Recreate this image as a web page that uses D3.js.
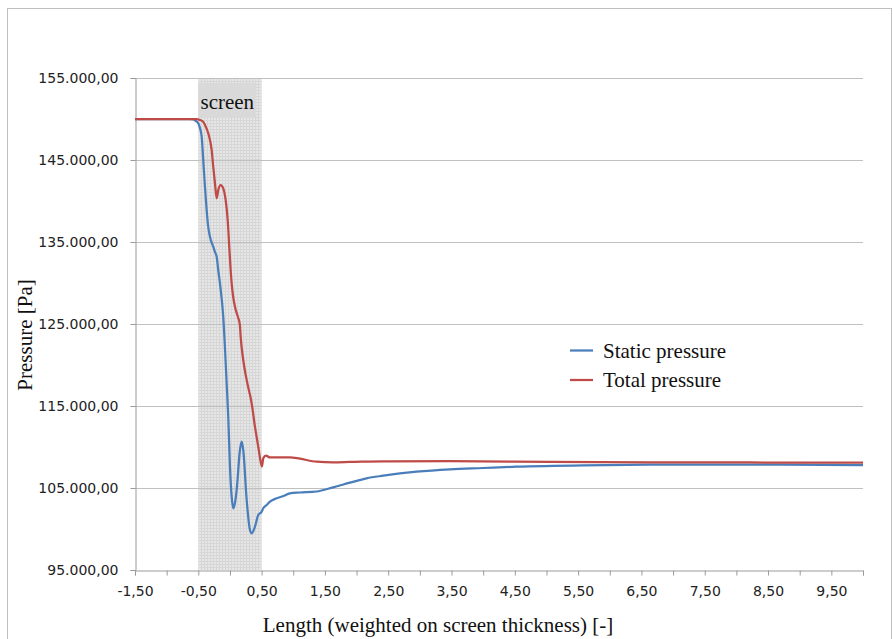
<!DOCTYPE html>
<html>
<head>
<meta charset="utf-8">
<script src="https://cdn.jsdelivr.net/npm/d3@7"></script>
<style>
  html, body { margin: 0; padding: 0; background: #fff; }
  svg { display: block; }
</style>
</head>
<body>
<svg id="chart" width="894" height="639"></svg>
<script>
// ---- Data ----
const totalX = [-1.5, -0.632, -0.521, -0.474, -0.426, -0.395, -0.343, -0.289, -0.264, -0.237, -0.210, -0.185, -0.147, -0.106, -0.068, -0.036, -0.011, 0.011, 0.027, 0.047, 0.079, 0.126, 0.157, 0.169, 0.210, 0.264, 0.343, 0.395, 0.447, 0.490, 0.505, 0.526, 0.568, 0.632, 0.947, 1.105, 1.369, 1.631, 1.895, 2.416, 3.474, 5.053, 6.632, 8.21, 10.0];
const totalP = [150000, 150000, 150000, 149878, 149695, 149268, 148256, 146220, 144183, 142158, 140329, 141341, 141951, 141548, 140122, 137683, 134427, 131585, 129963, 128537, 127110, 125854, 124878, 123451, 120610, 118171, 115329, 112476, 110037, 108012, 107622, 108622, 108963, 108720, 108744, 108573, 108207, 108134, 108171, 108256, 108268, 108195, 108134, 108110, 108085];

const staticX = [-1.5, -0.632, -0.579, -0.537, -0.501, -0.474, -0.447, -0.422, -0.395, -0.368, -0.347, -0.316, -0.264, -0.237, -0.210, -0.185, -0.158, -0.106, -0.052, -0.027, 0.0, 0.027, 0.052, 0.079, 0.106, 0.158, 0.185, 0.210, 0.264, 0.316, 0.343, 0.395, 0.447, 0.501, 0.526, 0.580, 0.632, 0.738, 0.842, 0.947, 1.105, 1.369, 1.631, 1.895, 2.158, 2.421, 2.948, 3.474, 3.995, 4.527, 5.579, 6.632, 8.21, 10.0];
const staticP = [150000, 150000, 149939, 149756, 149476, 148902, 147841, 145000, 141744, 138902, 137073, 135646, 134427, 133781, 133207, 131585, 129963, 125890, 117768, 113695, 107598, 103939, 102524, 103171, 104756, 109634, 110646, 109634, 103537, 99878, 99476, 100280, 101707, 102110, 102524, 102927, 103329, 103744, 104024, 104354, 104451, 104573, 105085, 105646, 106183, 106500, 106988, 107280, 107439, 107598, 107768, 107841, 107853, 107800];

const xTicks = [-1.5, -1, -0.5, 0, 0.5, 1, 1.5, 2, 2.5, 3, 3.5, 4, 4.5, 5, 5.5, 6, 6.5, 7, 7.5, 8, 8.5, 9, 9.5, 10];
const xLabelled = [-1.5, -0.5, 0.5, 1.5, 2.5, 3.5, 4.5, 5.5, 6.5, 7.5, 8.5, 9.5];
const yTicks = [95000, 105000, 115000, 125000, 135000, 145000, 155000];
const screenRange = [-0.5, 0.5];
const seriesNames = ["Static pressure", "Total pressure"];
const seriesColors = ["#4A7EBB", "#BE4B48"];
const xTitle = "Length (weighted on screen thickness) [-]";
const yTitle = "Pressure [Pa]";
const screenLabel = "screen";

// ---- Layout ----
const svg = d3.select("#chart");
const pLeft = 135, pRight = 863, pTop = 78, pBottom = 570;

const x = d3.scaleLinear().domain([-1.5, 10]).range([pLeft, pRight]);
const y = d3.scaleLinear().domain([95000, 155000]).range([pBottom, pTop]);

const loc = d3.formatLocale({decimal: ",", thousands: ".", grouping: [3], currency: ["", ""], minus: "-"});
const yFmt = loc.format(",.2f");
const xFmt = loc.format(".2f");

// outer border
svg.append("rect").attr("x", 7.5).attr("y", 8.5).attr("width", 884).attr("height", 700)
  .attr("fill", "none").attr("stroke", "#bfbfbf").attr("stroke-width", 1);

// pattern for screen band
const defs = svg.append("defs");
const pat = defs.append("pattern").attr("id", "screenPat").attr("patternUnits", "userSpaceOnUse")
  .attr("width", 3).attr("height", 3);
pat.append("rect").attr("width", 3).attr("height", 3).attr("fill", "#e6e6e6");
pat.append("path").attr("d", "M0,0.5H3M0.5,0V3").attr("stroke", "#d6d6d6").attr("stroke-width", 1);

svg.append("rect")
  .attr("x", x(screenRange[0])).attr("y", pTop)
  .attr("width", x(screenRange[1]) - x(screenRange[0])).attr("height", pBottom - pTop)
  .attr("fill", "url(#screenPat)");

// gridlines
svg.append("g").selectAll("line").data(yTicks.filter(d => d !== 95000)).join("line")
  .attr("x1", pLeft).attr("x2", pRight)
  .attr("y1", d => Math.round(y(d)) + 0.5).attr("y2", d => Math.round(y(d)) + 0.5)
  .attr("stroke", "#c0c0c0").attr("stroke-width", 1);

// y axis
const yAxis = svg.append("g").attr("transform", `translate(${pLeft + 0.5},0)`)
  .call(d3.axisLeft(y).tickValues(yTicks).tickSize(5).tickPadding(12).tickFormat(yFmt));
yAxis.select(".domain").attr("stroke", "#9a9a9a");
yAxis.selectAll(".tick line").attr("stroke", "#9a9a9a");
yAxis.selectAll(".tick text").attr("font-family", "DejaVu Sans").attr("font-size", 14).attr("fill", "#222");

// x axis
const xAxis = svg.append("g").attr("transform", `translate(0,${pBottom + 0.5})`)
  .call(d3.axisBottom(x).tickValues(xTicks).tickSize(5).tickPadding(11)
    .tickFormat(d => xLabelled.some(v => Math.abs(v - d) < 1e-9) ? xFmt(d) : ""));
xAxis.select(".domain").attr("stroke", "#9a9a9a");
xAxis.selectAll(".tick line").attr("stroke", "#9a9a9a");
xAxis.selectAll(".tick text").attr("font-family", "DejaVu Sans").attr("font-size", 14).attr("fill", "#222");

// screen label
const bx0 = x(screenRange[0]);
svg.append("rect").attr("x", bx0).attr("y", 83).attr("width", 58).attr("height", 35).attr("fill", "#d9d9d9");
svg.append("text").attr("x", bx0 + 29).attr("y", 109).attr("text-anchor", "middle")
  .attr("font-family", "Liberation Serif").attr("font-size", 21).attr("fill", "#111").text(screenLabel);

// lines
const line = d3.line().x(d => x(d[0])).y(d => y(d[1])).curve(d3.curveMonotoneX);
const series = [d3.zip(staticX, staticP), d3.zip(totalX, totalP)];
svg.append("g").selectAll("path").data(series).join("path")
  .attr("d", line).attr("fill", "none")
  .attr("stroke", (d, i) => seriesColors[i]).attr("stroke-width", 2.25)
  .attr("stroke-linejoin", "round");

// legend
const lg = svg.append("g");
seriesNames.forEach((name, i) => {
  const ly = 350.5 + i * 29.5;
  lg.append("line").attr("x1", 570).attr("x2", 593).attr("y1", ly).attr("y2", ly)
    .attr("stroke", seriesColors[i]).attr("stroke-width", 2.25);
  lg.append("text").attr("x", 603).attr("y", ly + 7).attr("font-family", "Liberation Serif")
    .attr("font-size", 21).attr("fill", "#111").text(name);
});

// axis titles
svg.append("text").attr("x", (pLeft + pRight) / 2 - 61).attr("y", 632).attr("text-anchor", "middle")
  .attr("font-family", "Liberation Serif").attr("font-size", 21).attr("fill", "#111").text(xTitle);
svg.append("text").attr("transform", "translate(32,335) rotate(-90)").attr("text-anchor", "middle")
  .attr("font-family", "Liberation Serif").attr("font-size", 21).attr("fill", "#111").text(yTitle);
</script>
</body>
</html>
